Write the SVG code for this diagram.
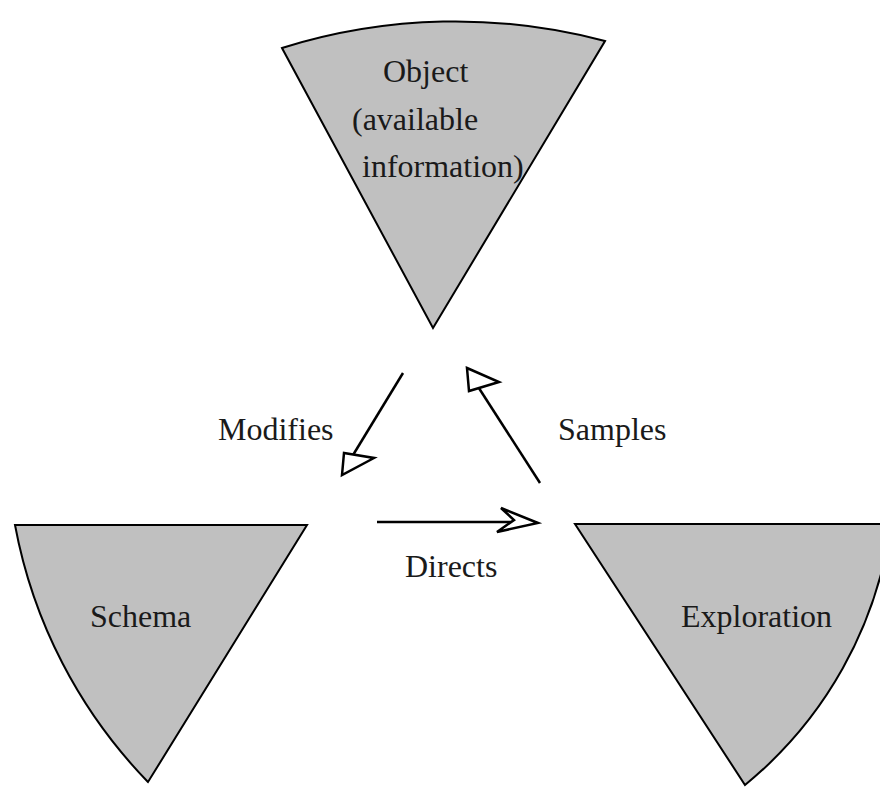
<svg xmlns="http://www.w3.org/2000/svg" width="880" height="787" viewBox="0 0 880 787">
<style>
.node{fill:#c0c0c0;stroke:#000;stroke-width:2;stroke-linejoin:miter}
.lbl{font-family:"Liberation Serif","Times New Roman",serif;font-size:32px;fill:#1a1a1a}
.edge{fill:none;stroke:#000;stroke-width:2.5}
.head{fill:#fff;stroke:#000;stroke-width:2.5;stroke-linejoin:miter}
</style>
<rect width="880" height="787" fill="#fff"/>
<g id="object">
<path class="node" d="M282,48 A580,580 0 0 1 605,41 L433,328 Z"/>
<text class="lbl" x="383" y="82">Object</text>
<text class="lbl" x="352" y="130">(available</text>
<text class="lbl" x="362" y="177">information)</text>
</g>
<g id="schema">
<path class="node" d="M15,525 L307,525 L148,782 A500,500 0 0 1 15,525 Z"/>
<text class="lbl" x="90" y="627">Schema</text>
</g>
<g id="exploration">
<path class="node" d="M575,524 L891,524 A408,408 0 0 1 745,785 Z"/>
<text class="lbl" x="681" y="627">Exploration</text>
</g>
<g id="connectors">
<line class="edge" x1="403" y1="373" x2="350" y2="460"/>
<polygon class="head" points="342,475 344,453 374,458"/>
<line class="edge" x1="540" y1="483" x2="475" y2="382"/>
<polygon class="head" points="467,368 499,382 469,391"/>
<line class="edge" x1="377" y1="522" x2="520" y2="522"/>
<polygon class="head" points="538,523 501,508 514,520 497,532"/>
</g>
<g id="edge-labels">
<text class="lbl" x="218" y="440">Modifies</text>
<text class="lbl" x="558" y="440">Samples</text>
<text class="lbl" x="405" y="577">Directs</text>
</g>
</svg>
